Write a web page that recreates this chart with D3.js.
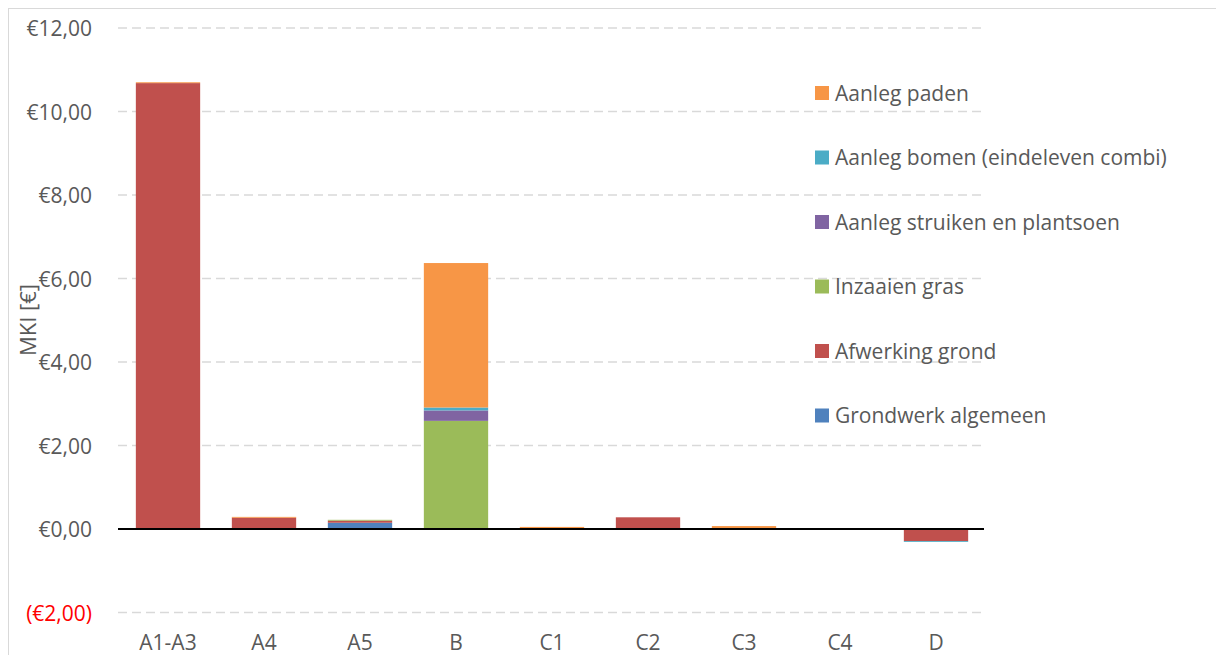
<!DOCTYPE html>
<html><head><meta charset="utf-8">
<script src="https://cdn.jsdelivr.net/npm/d3@7"></script>
<style>
html,body{margin:0;padding:0;background:#fff;}
text{font-family:"Open Sans",sans-serif;}
</style></head><body>
<svg id="chart" width="1216" height="655"></svg>
<script>
const categories = ["A1-A3","A4","A5","B","C1","C2","C3","C4","D"];
const seriesNames = ["Grondwerk algemeen","Afwerking grond","Inzaaien gras","Aanleg struiken en plantsoen","Aanleg bomen (eindeleven combi)","Aanleg paden"];
const seriesColors = ["#4f81bd","#c0504d","#9bbb59","#8064a2","#4bacc6","#f79646"];
const grondwerk = [0, 0, 0.15, 0, 0, 0, 0, 0, 0];
const afwerking = [10.68, 0.27, 0.05, 0, 0, 0.28, 0, 0, -0.29];
const inzaaien  = [0, 0, 0.02, 2.59, 0, 0, 0, 0, 0];
const struiken  = [0, 0, 0, 0.25, 0, 0, 0, 0, 0];
const bomen     = [0, 0, 0, 0.07, 0, 0, 0, 0, -0.02];
const paden     = [0.02, 0.02, 0, 3.46, 0.05, 0, 0.07, 0, 0];
const yTicks = [-2, 0, 2, 4, 6, 8, 10, 12];
const yTitle = "MKI [€]";

const values = [grondwerk, afwerking, inzaaien, struiken, bomen, paden];
const svg = d3.select("#chart");
const FS = 21;

// outer frame
svg.append("rect").attr("x",8.5).attr("y",8.5).attr("width",1220).attr("height",660)
  .attr("fill","none").attr("stroke","#d9d9d9").attr("stroke-width",1);

const x = d3.scaleBand().domain(categories).range([120, 984]).paddingInner(0.33).paddingOuter(0.165);
const y = d3.scaleLinear().domain([-2, 12]).range([612.5, 28]);

// gridlines
svg.append("g").selectAll("line").data(yTicks.filter(t=>t!==0)).join("line")
  .attr("x1",118).attr("x2",983).attr("y1",d=>y(d)).attr("y2",d=>y(d))
  .attr("stroke","#d9d9d9").attr("stroke-width",1.3).attr("stroke-dasharray","9,5");

// y axis labels
const fmt = v => v < 0 ? "(€" + d3.format(".2f")(-v).replace(".",",") + ")" : "€" + d3.format(".2f")(v).replace(".",",");
const yAxis = d3.axisLeft(y).tickValues(yTicks).tickSize(0).tickPadding(0).tickFormat(fmt);
const yg = svg.append("g").attr("transform","translate(92,0)").call(yAxis);
yg.select(".domain").remove();
yg.selectAll("text").attr("font-size",FS).attr("font-family","Open Sans, sans-serif")
  .attr("fill",d=>d<0?"#ff0000":"#595959").attr("dy","0.36em");

// stacked bars (separate positive and negative stacking)
const rows = categories.map((c,i)=>{const o={cat:c}; seriesNames.forEach((s,j)=>o[s]=values[j][i]); return o;});
const stack = d3.stack().keys(seriesNames).offset(d3.stackOffsetDiverging);
const stacked = stack(rows);
svg.append("g").selectAll("g").data(stacked).join("g")
  .attr("fill",(d,i)=>seriesColors[i])
  .selectAll("rect").data(d=>d).join("rect")
  .attr("x",d=>x(d.data.cat)).attr("width",x.bandwidth())
  .attr("y",d=>y(Math.max(d[0],d[1])))
  .attr("height",d=>Math.abs(y(d[0])-y(d[1])));

// zero line
svg.append("line").attr("x1",118).attr("x2",984).attr("y1",y(0)).attr("y2",y(0))
  .attr("stroke","#000").attr("stroke-width",2);

// x labels
const xAxis = d3.axisBottom(x).tickSize(0).tickPadding(0);
const xg = svg.append("g").attr("transform","translate(0,642)").call(xAxis);
xg.select(".domain").remove();
xg.selectAll("text").attr("font-size",FS).attr("font-family","Open Sans, sans-serif")
  .attr("fill","#595959").attr("dy","0.36em");

// y title
svg.append("text").attr("transform","translate(28,320) rotate(-90)")
  .attr("text-anchor","middle").attr("dy","0.36em")
  .attr("font-size",22).attr("fill","#595959").text(yTitle);

// legend (reverse order, top = Aanleg paden)
const legendOrder = seriesNames.map((s,i)=>({s,c:seriesColors[i]})).reverse();
const lg = svg.append("g").selectAll("g").data(legendOrder).join("g")
  .attr("transform",(d,i)=>`translate(815,${93 + i*64.5})`);
lg.append("rect").attr("x",0).attr("y",-7).attr("width",14).attr("height",14).attr("fill",d=>d.c);
lg.append("text").attr("x",20).attr("dy","0.36em").attr("font-size",FS)
  .attr("fill","#595959").text(d=>d.s);
</script>
</body></html>
